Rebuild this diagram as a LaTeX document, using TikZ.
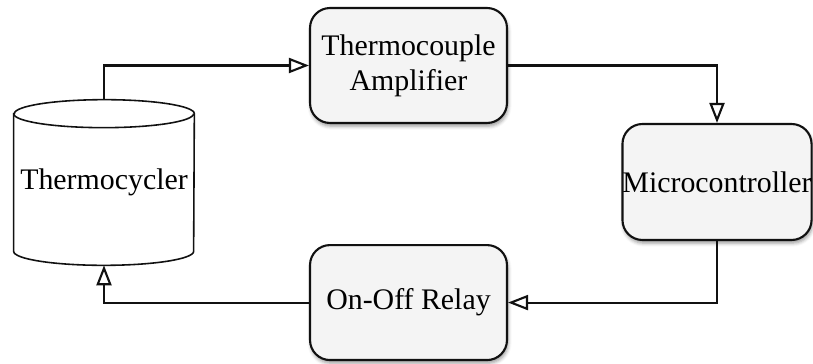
\documentclass[tikz,border=0pt]{standalone}
\usepackage{fontspec}
\setmainfont{Liberation Serif}
\usetikzlibrary{arrows.meta,positioning,backgrounds,shadows.blur}
\definecolor{BoxFill}{HTML}{F4F4F4}
\definecolor{EdgeBlack}{HTML}{111111}

\begin{document}
\begin{tikzpicture}[
    x=0.02cm, y=-0.02cm,
    font=\fontsize{17}{19.9}\selectfont,
    % rounded gray blocks with a soft shadow
    block/.style={rectangle, rounded corners=0.4cm, draw=EdgeBlack, line width=1.2pt, fill=BoxFill, minimum width=3.94cm, minimum height=2.3cm, align=center, blur shadow={shadow xshift=0.6pt, shadow yshift=-1.8pt, shadow blur radius=2pt}},
    % invisible frame of the cylinder, the outline is drawn below
    tank/.style={rectangle, minimum width=3.6cm, minimum height=3.3cm, inner sep=0pt},
    arrow/.style={-{Triangle[open, length=0.4cm, width=0.3cm]}, line width=1.2pt, draw=EdgeBlack}
]
\useasboundingbox (0,0) rectangle (813,364);

% blocks
\node[block] (amp) at (408.5,65.5) {Thermocouple\\Amplifier};
\node[block, below=2.4cm of amp] (relay) {On-Off Relay};
\node[block, minimum width=3.76cm, minimum height=2.32cm, inner xsep=0pt] (mcu) at (717,182) {Microcontroller};
\node[tank] (cyc) at (104,182.5) {Thermocycler};

% cylinder outline behind its text
\begin{scope}[on background layer]
\draw[line width=0.9pt, draw=EdgeBlack, fill=white] ([yshift=-0.28cm]cyc.north west) -- ([yshift=0.28cm]cyc.south west) arc[start angle=180, end angle=360, x radius=1.8cm, y radius=0.28cm] -- ([yshift=-0.28cm]cyc.north east) arc[start angle=0, end angle=180, x radius=1.8cm, y radius=0.28cm] -- cycle;
\draw[line width=0.9pt, draw=EdgeBlack] ([yshift=-0.28cm]cyc.north west) arc[start angle=180, end angle=360, x radius=1.8cm, y radius=0.28cm];
\end{scope}

% control loop
\draw[arrow] (cyc.north) |- (amp.west);
\draw[arrow] (amp.east) -| (mcu.north);
\draw[arrow] (mcu.south) |- (relay.east);
\draw[arrow] (relay.west) -| (cyc.south);

\end{tikzpicture}
\end{document}
